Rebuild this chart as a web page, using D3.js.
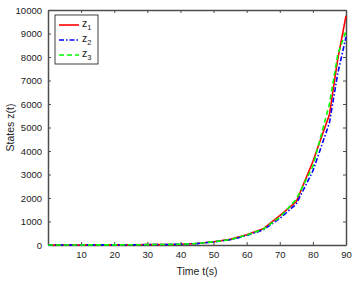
<!DOCTYPE html>
<meta charset="utf-8">
<script src="https://d3js.org/d3.v7.min.js"></script>
<style>
body { margin:0; background:#fff; }
text { font-family: "Liberation Sans", Arial, sans-serif; }
</style>
<body>
</body>
<script>
  var times = [0,5,10,15,20,25,30,35,40,45,50,55,60,65,70,75,80,85,87.5,90];
  var z1 = [1,2,3,4,6,9,14,22,35,65,140,240,440,690,1250,1850,3550,5550,7900,9750];
  var z2 = [1,2,3,4,6,9,14,21,33,60,130,220,400,640,1130,1750,3150,5200,7300,8850];
  var z3 = [1,2,3,4,6,9,14,22,34,62,135,230,420,670,1180,1950,3350,6000,8100,9100];
  var xTicks = [10,20,30,40,50,60,70,80,90];
  var yTicks = [0,1000,2000,3000,4000,5000,6000,7000,8000,9000,10000];

  var margin = {top: 10, right: 15, bottom: 41, left: 48};
  var W = 361, H = 286;
  var width = W - margin.left - margin.right,
      height = H - margin.top - margin.bottom;

  var svg = d3.select("body").append("svg")
      .attr("width", W)
      .attr("height", H)
    .append("g")
      .attr("transform", "translate(" + margin.left + "," + margin.top + ")");

  var xScale = d3.scaleLinear().domain([0, 90]).range([0, width]);
  var yScale = d3.scaleLinear().domain([0, 10000]).range([height, 0]);

  var axisColor = "#4d4d4d";

  svg.append("g")
    .attr("transform", "translate(0," + height + ")")
    .call(d3.axisBottom(xScale).tickValues(xTicks).tickFormat(d3.format("d"))
      .tickSizeInner(-3).tickSizeOuter(0).tickPadding(6));
  svg.append("g")
    .call(d3.axisLeft(yScale).tickValues(yTicks).tickFormat(d3.format("d"))
      .tickSizeInner(-3).tickSizeOuter(0).tickPadding(6));
  // top and right box ticks
  svg.append("g")
    .call(d3.axisTop(xScale).tickValues(xTicks).tickSizeInner(-3).tickSizeOuter(0).tickFormat(""));
  svg.append("g")
    .attr("transform", "translate(" + width + ",0)")
    .call(d3.axisRight(yScale).tickValues(yTicks).tickSizeInner(-3).tickSizeOuter(0).tickFormat(""));

  svg.selectAll(".domain").attr("stroke", axisColor).attr("stroke-width", 1.5);
  svg.selectAll(".tick line").attr("stroke", axisColor);
  svg.selectAll(".tick text").attr("fill", "#222").style("font-size", "9.5px");

  var line = d3.line()
    .x(function(d, i) { return xScale(times[i]); })
    .y(function(d) { return yScale(d); });

  var series = [
    {vals: z1, color: "#ff0000", dash: null, name: "1"},
    {vals: z2, color: "#0000ff", dash: "5,2,1.5,2", name: "2"},
    {vals: z3, color: "#00ff00", dash: "5,3", name: "3"}
  ];

  series.forEach(function(s) {
    svg.append("path")
      .datum(s.vals)
      .attr("d", line)
      .attr("fill", "none")
      .attr("stroke", s.color)
      .attr("stroke-width", 1.6)
      .attr("stroke-dasharray", s.dash);
  });

  // legend
  var lg = svg.append("g").attr("transform", "translate(7,5)");
  lg.append("rect").attr("width", 43).attr("height", 49)
    .attr("fill", "#fff").attr("stroke", "#111").attr("stroke-width", 0.8);
  series.forEach(function(s, i) {
    var yy = 10 + i * 15;
    lg.append("line").attr("x1", 4).attr("x2", 24).attr("y1", yy).attr("y2", yy)
      .attr("stroke", s.color).attr("stroke-width", 1.6).attr("stroke-dasharray", s.dash);
    var t = lg.append("text").attr("x", 27).attr("y", yy + 2).style("font-size", "10.5px").attr("fill", "#222");
    t.append("tspan").text("z");
    t.append("tspan").attr("dy", 3).style("font-size", "7.5px").text(s.name);
  });

  svg.append("text")
    .attr("x", width / 2).attr("y", height + 30)
    .attr("text-anchor", "middle").style("font-size", "10.5px").attr("fill", "#222")
    .text("Time t(s)");
  svg.append("text")
    .attr("transform", "translate(-34," + (height / 2) + ") rotate(-90)")
    .attr("text-anchor", "middle").style("font-size", "10.5px").attr("fill", "#222")
    .text("States z(t)");
</script>
